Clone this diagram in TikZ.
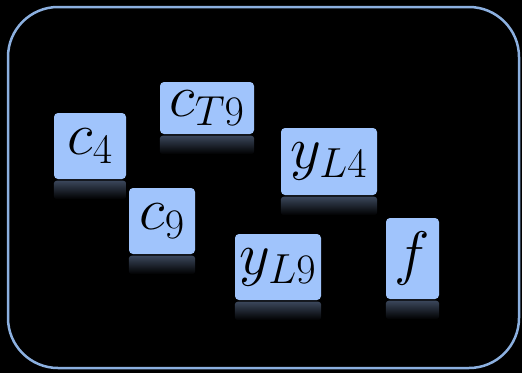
\documentclass[tikz,border=0pt]{standalone}
\usepackage{fix-cm}
\usepackage{xcolor}
\usepackage{tikz}
\usetikzlibrary{positioning}
\definecolor{varblue}{RGB}{160,196,252}
\definecolor{frameblue}{RGB}{140,176,224}
\definecolor{glow}{RGB}{58,70,90}
\tikzset{var/.style={rounded corners=4pt,fill=varblue,inner sep=0pt,font=\fontsize{60}{61}\selectfont}}

\begin{document}
\begin{tikzpicture}[x=1pt,y=-1pt]
\fill[black] (0,0) rectangle (522,373);
\useasboundingbox (0,0) rectangle (522,373);
\draw[frameblue,line width=2.5pt,rounded corners=50pt] (8,7) rectangle (519,368);
\node[var,minimum width=72pt,minimum height=66pt] (c4) at (90,146) {$c_4$};
\node[var,minimum width=94pt,minimum height=52pt] (cT9) at (207,108) {$c_{T9}$};
\node[var,minimum width=66pt,minimum height=66pt] (c9) at (162,221) {$c_9$};
\node[var,minimum width=96pt,minimum height=67pt] (yL4) at (329,161.5) {$y_{L4}$};
\node[var,minimum width=86pt,minimum height=66pt] (yL9) at (278,267) {$y_{L9}$};
\node[var,minimum width=53pt,minimum height=81pt] (f) at (412.5,258.5) {$f$};
% reflections
\foreach \n in {c4,cT9,c9,yL4,yL9,f}
  \shade[top color=glow,bottom color=black,rounded corners=3pt]
    ([yshift=-1.5pt]\n.south west) rectangle ([yshift=-20pt]\n.south east);
\end{tikzpicture}
\end{document}
